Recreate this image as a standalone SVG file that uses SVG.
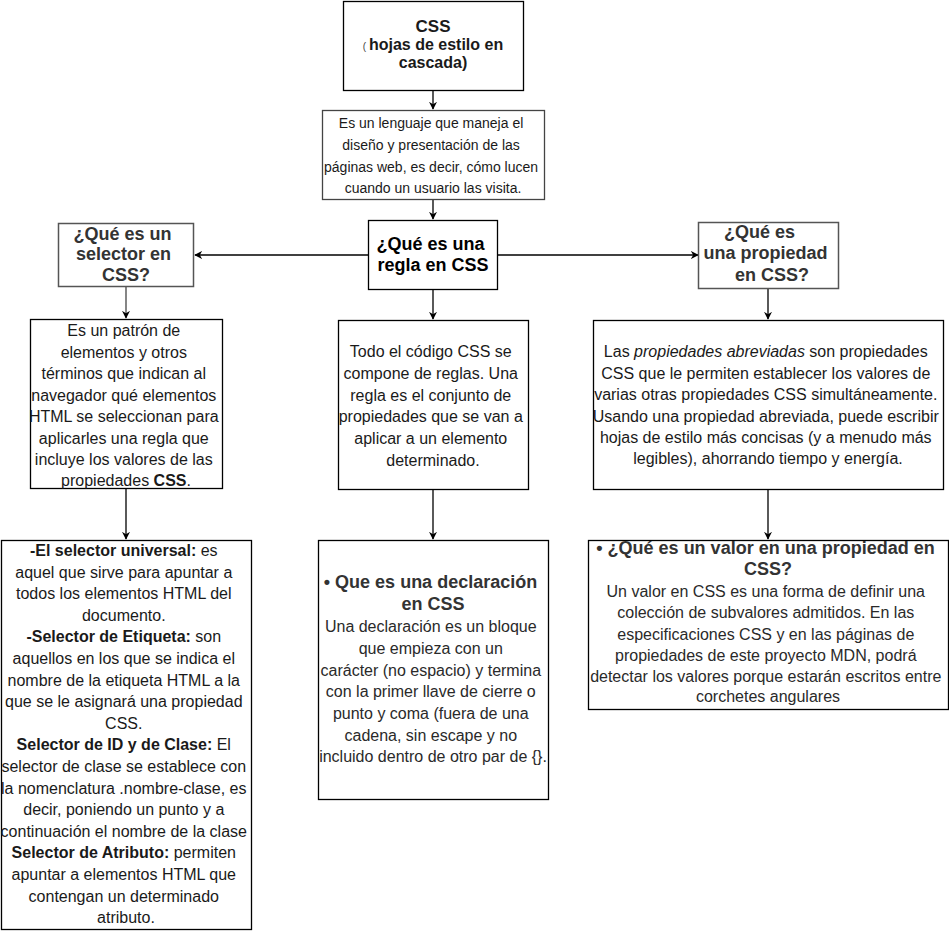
<svg xmlns="http://www.w3.org/2000/svg" width="949" height="931" viewBox="0 0 949 931">
<defs>
<style>
.box{fill:#fff;stroke:#000;stroke-width:1.3}
.gbox{fill:#fff;stroke:#555;stroke-width:1.5}
.t{font-family:"Liberation Sans",Arial,sans-serif;text-anchor:middle;fill:#1a1a1a}
.h{font-family:"Liberation Sans",Arial,sans-serif;text-anchor:middle;font-weight:bold;fill:#333}
.b{font-weight:bold}
.edge{fill:none;stroke:#000;stroke-width:1.3}
</style>
<marker id="arr" viewBox="0 0 10 10" refX="9" refY="5" markerWidth="8" markerHeight="8" markerUnits="userSpaceOnUse" orient="auto">
<path d="M0,0 L10,5 L0,10 L3,5 Z" fill="#000"/>
</marker>
</defs>
<rect width="949" height="931" fill="#fff"/>

<g id="connectors">
<path class="edge" d="M433,91 V109" marker-end="url(#arr)"/>
<path class="edge" d="M433,200 V219" marker-end="url(#arr)"/>
<path class="edge" d="M368,255 H195" marker-end="url(#arr)"/>
<path class="edge" d="M498,255 H698" marker-end="url(#arr)"/>
<path class="edge" d="M433,290 V319" marker-end="url(#arr)"/>
<path class="edge" style="stroke:#444" d="M126,287 V318" marker-end="url(#arr)"/>
<path class="edge" d="M126,489 V539" marker-end="url(#arr)"/>
<path class="edge" d="M768,289 V319" marker-end="url(#arr)"/>
<path class="edge" d="M433,490 V539" marker-end="url(#arr)"/>
<path class="edge" d="M768,490 V539" marker-end="url(#arr)"/>
</g>

<g id="css">
<rect class="box" x="343.5" y="1.5" width="180" height="89"/>
<text class="t b" x="433" y="32" font-size="17">CSS</text>
<text class="t" x="433" y="50" font-size="16"><tspan font-size="10" fill="#444">( </tspan><tspan class="b">hojas de estilo en</tspan></text>
<text class="t b" x="433" y="68" font-size="16">cascada)</text>
</g>

<g id="descripcion">
<rect class="box" style="stroke:#444" x="322.5" y="110.5" width="222" height="89"/>
<text class="t" x="433" y="0" font-size="14" fill="#222">
<tspan x="433" y="128">Es un lenguaje que maneja el</tspan>
<tspan x="433" y="150">diseño y presentación de las</tspan>
<tspan x="433" y="172">páginas web, es decir, cómo lucen</tspan>
<tspan x="433" y="193">cuando un usuario las visita.</tspan>
</text>
</g>

<g id="regla">
<rect class="box" x="368.5" y="220.5" width="129" height="69"/>
<text class="t b" x="433" y="0" font-size="18" style="fill:#000">
<tspan x="433" y="250">¿Qué es una</tspan>
<tspan x="433" y="271">regla en CSS</tspan>
</text>
</g>

<g id="selector">
<rect class="gbox" x="58.5" y="223.5" width="135" height="63"/>
<text class="h" x="126" y="0" font-size="18">
<tspan x="125" y="240">¿Qué es un</tspan>
<tspan x="126" y="260">selector en</tspan>
<tspan x="126" y="281">CSS?</tspan>
</text>
</g>

<g id="propiedad">
<rect class="gbox" x="698.5" y="222.5" width="140" height="66"/>
<text class="h" x="768" y="0" font-size="18">
<tspan x="762" y="238">¿Qué es</tspan>
<tspan x="768" y="259">una propiedad</tspan>
<tspan x="772" y="281">en CSS?</tspan>
</text>
</g>

<g id="selector-def">
<rect class="box" x="30.5" y="319.5" width="192" height="169"/>
<text class="t" x="126" y="0" font-size="16">
<tspan x="126" y="336">Es un patrón de</tspan>
<tspan x="126" y="357.5">elementos y otros</tspan>
<tspan x="126" y="379">términos que indican al</tspan>
<tspan x="126" y="400.5">navegador qué elementos</tspan>
<tspan x="126" y="422">HTML se seleccionan para</tspan>
<tspan x="126" y="443.5">aplicarles una regla que</tspan>
<tspan x="126" y="465">incluye los valores de las</tspan>
<tspan x="126" y="486">propiedades <tspan class="b">CSS</tspan>.</tspan>
</text>
</g>

<g id="regla-def">
<rect class="box" x="338.5" y="320.5" width="190" height="169"/>
<text class="t" x="433" y="0" font-size="16">
<tspan x="433" y="357">Todo el código CSS se</tspan>
<tspan x="433" y="379">compone de reglas. Una</tspan>
<tspan x="433" y="400.5">regla es el conjunto de</tspan>
<tspan x="433" y="422">propiedades que se van a</tspan>
<tspan x="433" y="444">aplicar a un elemento</tspan>
<tspan x="433" y="465.5">determinado.</tspan>
</text>
</g>

<g id="propiedad-def">
<rect class="box" x="593.5" y="320.5" width="350" height="169"/>
<text class="t" x="768" y="0" font-size="16">
<tspan x="768" y="357">Las <tspan font-style="italic">propiedades abreviadas</tspan> son propiedades</tspan>
<tspan x="768" y="378.5">CSS que le permiten establecer los valores de</tspan>
<tspan x="768" y="400">varias otras propiedades CSS simultáneamente.</tspan>
<tspan x="768" y="421.5">Usando una propiedad abreviada, puede escribir</tspan>
<tspan x="768" y="443">hojas de estilo más concisas (y a menudo más</tspan>
<tspan x="768" y="464">legibles), ahorrando tiempo y energía.</tspan>
</text>
</g>

<g id="tipos-selector">
<rect class="box" x="1.5" y="540.5" width="250" height="389"/>
<text class="t" x="126" y="0" font-size="16">
<tspan x="126" y="556">
<tspan class="b">-El selector universal:</tspan> es</tspan>
<tspan x="126" y="577.6">aquel que sirve para apuntar a</tspan>
<tspan x="126" y="599.2">todos los elementos HTML del</tspan>
<tspan x="126" y="620.8">documento.</tspan>
<tspan x="126" y="642.4"><tspan class="b">-Selector de Etiqueta:</tspan> son</tspan>
<tspan x="126" y="664">aquellos en los que se indica el</tspan>
<tspan x="126" y="685.6">nombre de la etiqueta HTML a la</tspan>
<tspan x="126" y="707.2">que se le asignará una propiedad</tspan>
<tspan x="126" y="728.8">CSS.</tspan>
<tspan x="126" y="750.4"><tspan class="b">Selector de ID y de Clase:</tspan> El</tspan>
<tspan x="126" y="772">selector de clase se establece con</tspan>
<tspan x="126" y="793.6">la nomenclatura .nombre-clase, es</tspan>
<tspan x="126" y="815.2">decir, poniendo un punto y a</tspan>
<tspan x="126" y="836.8">continuación el nombre de la clase</tspan>
<tspan x="126" y="858.4"><tspan class="b">Selector de Atributo:</tspan> permiten</tspan>
<tspan x="126" y="880">apuntar a elementos HTML que</tspan>
<tspan x="126" y="901.6">contengan un determinado</tspan>
<tspan x="126" y="923.2">atributo.</tspan>
</text>
</g>

<g id="declaracion">
<rect class="box" x="318.5" y="540.5" width="230" height="259"/>
<text class="h" x="433" y="0" font-size="18">
<tspan x="433" y="588">• Que es una declaración</tspan>
<tspan x="433" y="610">en CSS</tspan>
</text>
<text class="t" x="433" y="0" font-size="16" style="fill:#2a2a2a">
<tspan x="433" y="631.5">Una declaración es un bloque</tspan>
<tspan x="433" y="653.5">que empieza con un</tspan>
<tspan x="433" y="675.5">carácter (no espacio) y termina</tspan>
<tspan x="433" y="697">con la primer llave de cierre o</tspan>
<tspan x="433" y="719">punto y coma (fuera de una</tspan>
<tspan x="433" y="740.5">cadena, sin escape y no</tspan>
<tspan x="433" y="762">incluido dentro de otro par de {}.</tspan>
</text>
</g>

<g id="valor">
<rect class="box" x="588.5" y="540.5" width="360" height="169"/>
<text class="h" x="768" y="0" font-size="18">
<tspan x="768" y="554">• ¿Qué es un valor en una propiedad en</tspan>
<tspan x="768" y="575">CSS?</tspan>
</text>
<text class="t" x="768" y="0" font-size="16" style="fill:#2a2a2a">
<tspan x="768" y="597">Un valor en CSS es una forma de definir una</tspan>
<tspan x="768" y="618">colección de subvalores admitidos. En las</tspan>
<tspan x="768" y="639.5">especificaciones CSS y en las páginas de</tspan>
<tspan x="768" y="660.5">propiedades de este proyecto MDN, podrá</tspan>
<tspan x="768" y="681.5">detectar los valores porque estarán escritos entre</tspan>
<tspan x="768" y="702">corchetes angulares</tspan>
</text>
</g>
</svg>
